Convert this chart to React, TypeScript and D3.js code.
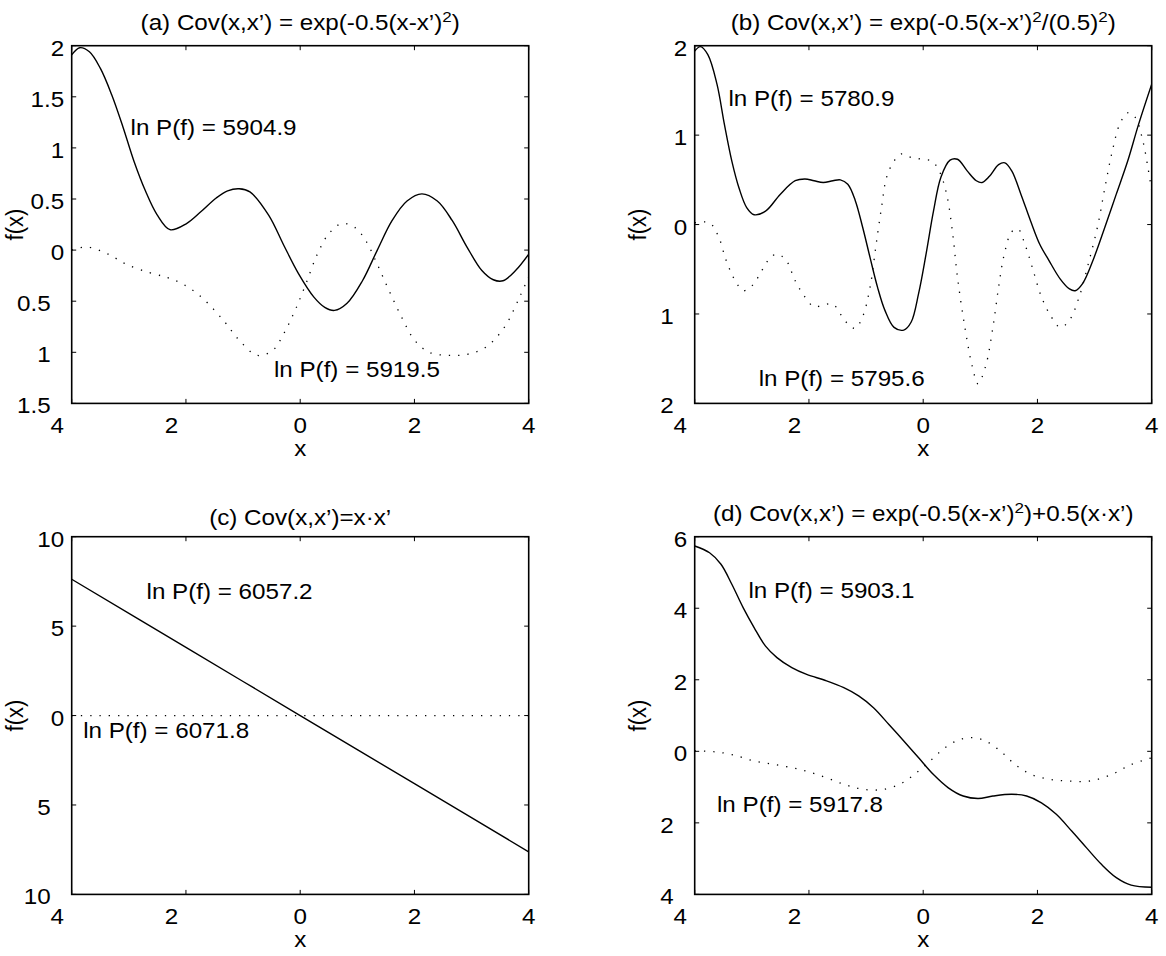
import React from "react";
import * as d3 from "d3";

type Pt = [number, number];

const FONT = "'Liberation Sans', Arial, Helvetica, sans-serif";
const FS = 22;
const SUP_FS = 15.5;
// the reference figure is stretched horizontally, text follows it
const SX = 1.1;

const W = 1166;
const H = 956;
const PW = 457;
const PH = 357.7;
const LEFTS = [71.7, 694.7];
const TOPS = [45.7, 536.7];

// ticks
const xTicks = [-4, -2, 0, 2, 4];
const aTicks = [2, 1.5, 1, 0.5, 0, -0.5, -1, -1.5];
const bTicks = [2, 1, 0, -1, -2];
const cTicks = [10, 5, 0, -5, -10];
const dTicks = [6, 4, 2, 0, -2, -4];

// (a) squared exponential
const aSolid: Pt[] = [
  [-4, 1.91], [-3.86, 1.98], [-3.69, 1.94], [-3.5, 1.78], [-3.3, 1.52], [-3.1, 1.2],
  [-2.91, 0.87], [-2.71, 0.58], [-2.51, 0.35], [-2.28, 0.2], [-1.99, 0.26], [-1.73, 0.38],
  [-1.47, 0.51], [-1.27, 0.58], [-1.07, 0.6], [-0.88, 0.57], [-0.55, 0.34], [-0.29, 0.05],
  [-0.03, -0.23], [0.24, -0.46], [0.43, -0.56], [0.6, -0.59], [0.82, -0.52], [1.09, -0.3],
  [1.35, 0], [1.61, 0.29], [1.87, 0.48], [2.13, 0.55], [2.4, 0.48], [2.66, 0.29], [2.92, 0.03],
  [3.18, -0.2], [3.38, -0.29], [3.55, -0.3], [3.77, -0.2], [4, -0.04],
];
const aDotted: Pt[] = [
  [-4, 0], [-3.73, 0.03], [-3.36, -0.04], [-3.04, -0.14], [-2.64, -0.22], [-2.32, -0.27],
  [-2.06, -0.33], [-1.73, -0.46], [-1.34, -0.69], [-1.07, -0.88], [-0.75, -1.03], [-0.48, -0.98],
  [-0.29, -0.82], [-0.09, -0.59], [0.1, -0.33], [0.3, -0.04], [0.5, 0.16], [0.73, 0.26],
  [0.96, 0.22], [1.15, 0.09], [1.35, -0.14], [1.55, -0.39], [1.77, -0.65], [2, -0.88],
  [2.26, -1.0], [2.59, -1.03], [2.92, -1.02], [3.25, -0.95], [3.58, -0.75], [3.84, -0.46],
  [4, -0.26],
];

// (b) short length scale
const bSolid: Pt[] = [
  [-4, 1.94], [-3.9, 1.99], [-3.77, 1.9], [-3.61, 1.57], [-3.48, 1.12], [-3.35, 0.71],
  [-3.22, 0.4], [-3.09, 0.19], [-2.96, 0.11], [-2.76, 0.15], [-2.5, 0.34], [-2.24, 0.49],
  [-2.07, 0.51], [-1.91, 0.49], [-1.75, 0.47], [-1.58, 0.49], [-1.45, 0.5], [-1.32, 0.45],
  [-1.19, 0.27], [-1.06, -0.03], [-0.93, -0.37], [-0.8, -0.7], [-0.67, -0.96], [-0.51, -1.15],
  [-0.34, -1.18], [-0.21, -1.09], [-0.08, -0.77], [0.05, -0.33], [0.18, 0.15], [0.31, 0.53],
  [0.47, 0.72], [0.6, 0.73], [0.77, 0.6], [0.93, 0.49], [1.03, 0.47], [1.16, 0.54],
  [1.32, 0.67], [1.43, 0.69], [1.55, 0.6], [1.71, 0.34], [1.88, 0.04], [2.04, -0.22],
  [2.2, -0.4], [2.4, -0.61], [2.56, -0.72], [2.66, -0.74], [2.79, -0.66], [2.99, -0.37],
  [3.18, -0.03], [3.38, 0.34], [3.58, 0.71], [3.77, 1.12], [4, 1.57],
];
const bDotted: Pt[] = [
  [-4, 0.02], [-3.74, 0.02], [-3.58, -0.14], [-3.45, -0.4], [-3.28, -0.64], [-3.15, -0.74],
  [-2.99, -0.68], [-2.82, -0.51], [-2.69, -0.38], [-2.56, -0.33], [-2.4, -0.4], [-2.24, -0.63],
  [-2.07, -0.81], [-1.91, -0.92], [-1.75, -0.9], [-1.58, -0.89], [-1.45, -1.0], [-1.32, -1.11],
  [-1.19, -1.16], [-1.06, -1.03], [-0.93, -0.7], [-0.83, -0.25], [-0.73, 0.19], [-0.64, 0.53],
  [-0.51, 0.71], [-0.38, 0.79], [-0.21, 0.75], [-0.02, 0.73], [0.15, 0.71], [0.28, 0.6],
  [0.41, 0.34], [0.51, -0.07], [0.6, -0.59], [0.73, -1.15], [0.86, -1.59], [0.96, -1.78],
  [1.09, -1.59], [1.22, -1.15], [1.32, -0.7], [1.42, -0.33], [1.55, -0.08], [1.66, -0.05],
  [1.78, -0.22], [1.91, -0.48], [2.07, -0.81], [2.24, -1.03], [2.4, -1.15], [2.56, -1.07],
  [2.73, -0.81], [2.89, -0.44], [3.05, -0.03], [3.18, 0.41], [3.31, 0.82], [3.44, 1.12],
  [3.58, 1.25], [3.71, 1.2], [3.84, 0.95], [3.93, 0.65], [4, 0.38],
];

// (c) linear
const cSolid: Pt[] = [[-4, 7.62], [-2, 3.81], [0, 0], [2, -3.81], [4, -7.62]];
const cDotted: Pt[] = [[-4, 0], [-2, 0], [0, 0], [2, 0], [4, 0]];

// (d) squared exponential + linear
const dSolid: Pt[] = [
  [-4, 5.74], [-3.74, 5.55], [-3.54, 5.23], [-3.35, 4.67], [-3.15, 4.01], [-2.96, 3.46],
  [-2.76, 2.94], [-2.56, 2.62], [-2.3, 2.34], [-2.04, 2.15], [-1.71, 1.98], [-1.39, 1.78],
  [-1.13, 1.55], [-0.87, 1.22], [-0.6, 0.75], [-0.34, 0.29], [-0.08, -0.18], [0.18, -0.65],
  [0.44, -1.02], [0.7, -1.25], [0.96, -1.32], [1.22, -1.25], [1.55, -1.2], [1.81, -1.25],
  [2.07, -1.44], [2.33, -1.76], [2.6, -2.23], [2.86, -2.7], [3.12, -3.16], [3.38, -3.53],
  [3.64, -3.74], [4, -3.8],
];
const dDotted: Pt[] = [
  [-4, 0.01], [-3.67, -0.01], [-3.35, -0.09], [-2.96, -0.27], [-2.56, -0.38], [-2.17, -0.5],
  [-1.78, -0.69], [-1.39, -0.92], [-1.06, -1.06], [-0.73, -1.07], [-0.41, -0.92], [-0.15, -0.64],
  [0.12, -0.27], [0.38, 0.1], [0.64, 0.33], [0.87, 0.38], [1.09, 0.29], [1.35, 0.01],
  [1.61, -0.37], [1.88, -0.64], [2.2, -0.78], [2.53, -0.83], [2.92, -0.83], [3.31, -0.64],
  [3.64, -0.37], [4, -0.18],
];

type Seg = { t: string; sup?: boolean };
const aTitle: Seg[] = [{ t: "(a) Cov(x,x’) = exp(-0.5(x-x’)" }, { t: "2", sup: true }, { t: ")" }];
const bTitle: Seg[] = [
  { t: "(b) Cov(x,x’) = exp(-0.5(x-x’)" }, { t: "2", sup: true }, { t: "/(0.5)" }, { t: "2", sup: true }, { t: ")" },
];
const cTitle: Seg[] = [{ t: "(c) Cov(x,x’)=x·x’" }];
const dTitle: Seg[] = [{ t: "(d) Cov(x,x’) = exp(-0.5(x-x’)" }, { t: "2", sup: true }, { t: ")+0.5(x·x’)" }];

type Note = { x: number; y: number; t: string };
const aNotes: Note[] = [{ x: -2.97, y: 1.2, t: "ln P(f) = 5904.9" }, { x: -0.46, y: -1.17, t: "ln P(f) = 5919.5" }];
const bNotes: Note[] = [{ x: -3.41, y: 1.41, t: "ln P(f) = 5780.9" }, { x: -2.88, y: -1.72, t: "ln P(f) = 5795.6" }];
const cNotes: Note[] = [{ x: -2.69, y: 6.93, t: "ln P(f) = 6057.2" }, { x: -3.8, y: -0.85, t: "ln P(f) = 6071.8" }];
const dNotes: Note[] = [{ x: -3.06, y: 4.49, t: "ln P(f) = 5903.1" }, { x: -3.61, y: -1.5, t: "ln P(f) = 5917.8" }];

const Label = ({ x, y, anchor = "start", children, rotate = false }: any) => (
  <text
    transform={`translate(${x},${y}) scale(${SX},1)${rotate ? " rotate(-90)" : ""}`}
    textAnchor={anchor}
    fontSize={FS}
    fontFamily={FONT}
    fill="#000"
  >
    {children}
  </text>
);

type PanelProps = {
  id: string;
  left: number;
  top: number;
  yTicks: number[];
  solid: Pt[];
  dotted: Pt[];
  title: Seg[];
  titleGap: number;
  notes: Note[];
};

const Panel = ({ id, left, top, yTicks, solid, dotted, title, titleGap, notes }: PanelProps) => {
  const x = d3.scaleLinear().domain([-4, 4]).range([left, left + PW]);
  const y = d3
    .scaleLinear()
    .domain(d3.extent(yTicks) as [number, number])
    .range([top + PH, top]);
  const line = d3
    .line<Pt>()
    .x((d) => x(d[0]))
    .y((d) => y(d[1]))
    .curve(d3.curveCatmullRom.alpha(0.5));
  const right = left + PW;
  const bottom = top + PH;
  const tick = 4.5;

  let dy = 0;
  const titleSpans = title.map((s, i) => {
    const shift = (s.sup ? -8 : 0) - dy;
    dy += shift;
    return (
      <tspan key={i} dy={shift} fontSize={s.sup ? SUP_FS : FS}>
        {s.t}
      </tspan>
    );
  });

  return (
    <g>
      <clipPath id={`clip-${id}`}>
        <rect x={left} y={top} width={PW} height={PH} />
      </clipPath>
      <g clipPath={`url(#clip-${id})`} fill="none" stroke="#000">
        <path d={line(dotted) || ""} strokeWidth={1.3} strokeDasharray="1.3 8" />
        <path d={line(solid) || ""} strokeWidth={1.4} />
      </g>
      <rect x={left} y={top} width={PW} height={PH} fill="none" stroke="#000" strokeWidth={1.6} />
      <g stroke="#000" strokeWidth={1}>
        {xTicks.map((v) => (
          <g key={`xt${v}`}>
            <line x1={x(v)} x2={x(v)} y1={bottom} y2={bottom - tick} />
            <line x1={x(v)} x2={x(v)} y1={top} y2={top + tick} />
          </g>
        ))}
        {yTicks.map((v) => (
          <g key={`yt${v}`}>
            <line x1={left} x2={left + tick} y1={y(v)} y2={y(v)} />
            <line x1={right} x2={right - tick} y1={y(v)} y2={y(v)} />
          </g>
        ))}
      </g>
      {xTicks.map((v) => (
        <Label key={`xl${v}`} x={v < 0 ? x(v) - 14.5 : x(v)} y={bottom + 30} anchor="middle">
          {String(Math.abs(v))}
        </Label>
      ))}
      {yTicks.map((v) => (
        <Label key={`yl${v}`} x={v < 0 ? left - 21 : left - 7.5} y={y(v) + 10} anchor="end">
          {String(Math.abs(v))}
        </Label>
      ))}
      <Label x={(left + right) / 2} y={bottom + 53} anchor="middle">
        x
      </Label>
      <Label x={left - 48.4} y={(top + bottom) / 2} anchor="middle" rotate>
        f(x)
      </Label>
      <Label x={(left + right) / 2} y={top - titleGap} anchor="middle">
        {titleSpans}
      </Label>
      {notes.map((n, i) => (
        <Label key={`n${i}`} x={x(n.x)} y={y(n.y) + 7.5}>
          {n.t}
        </Label>
      ))}
    </g>
  );
};

export default function App() {
  return (
    <svg
      width={W}
      height={H}
      style={{ position: "absolute", left: 0, top: 0, background: "#fff" }}
    >
      <rect width={W} height={H} fill="#fff" />
      <Panel id="a" left={LEFTS[0]} top={TOPS[0]} yTicks={aTicks} solid={aSolid} dotted={aDotted} title={aTitle} titleGap={15.5} notes={aNotes} />
      <Panel id="b" left={LEFTS[1]} top={TOPS[0]} yTicks={bTicks} solid={bSolid} dotted={bDotted} title={bTitle} titleGap={15.5} notes={bNotes} />
      <Panel id="c" left={LEFTS[0]} top={TOPS[1]} yTicks={cTicks} solid={cSolid} dotted={cDotted} title={cTitle} titleGap={12} notes={cNotes} />
      <Panel id="d" left={LEFTS[1]} top={TOPS[1]} yTicks={dTicks} solid={dSolid} dotted={dDotted} title={dTitle} titleGap={16} notes={dNotes} />
    </svg>
  );
}
